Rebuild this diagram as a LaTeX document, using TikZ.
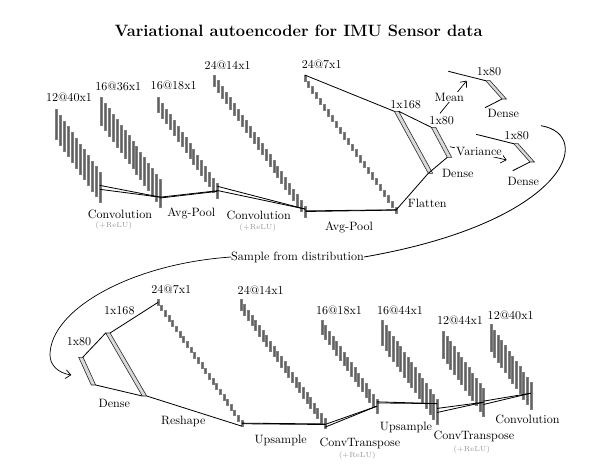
\documentclass[tikz,border=0pt]{standalone}
\usepackage{xcolor}
\usetikzlibrary{arrows.meta, calc}

% one stack of feature maps: name, left, top, count, dx, dy, height
\newcommand{\fmstack}[7]{
  \foreach \i in {1,...,#4} {
    \node[fmap, minimum height=#7*0.03cm] (#1\i) at ({#2+(\i-1)*#5},{#3+(\i-1)*#6}) {};
  }
}
% one flat dense layer: name, top left x, top y, bottom left x, bottom y
\newcommand{\flatbar}[5]{
  \coordinate (#1t) at (#2,#3);
  \coordinate (#1b) at (#4,#5);
  \draw[flat] (#1t) -- ++(4.4,0) -- ($(#1b)+(4.4,0)$) -- (#1b) -- cycle;
}

\begin{document}
\begin{tikzpicture}[
  x=0.03cm, y=-0.03cm,
  fmap/.style={draw=black!50, fill=black!62, line width=0.3pt, inner sep=0pt,
               minimum width=0.06cm, anchor=north},
  flat/.style={draw=black!85, fill=gray!30, line width=0.5pt},
  link/.style={line width=0.7pt},
  arrow/.style={line width=0.6pt, -{Straight Barb[length=1.5mm, width=2.6mm]}},
  lbl/.style={inner sep=0pt, font=\fontsize{10.3}{12}\selectfont},
  relu/.style={inner sep=0pt, font=\fontsize{6.3}{7}\selectfont, text=gray!80}
]
  \useasboundingbox (0,0) rectangle (595,475);
  \node[inner sep=0pt, font=\fontsize{14}{16}\selectfont\bfseries] (title) at (298.5,31) {Variational autoencoder for IMU Sensor data};

  % encoder
  \fmstack{a}{56.3}{109.3}{12}{3.95}{5.7}{30}
  \fmstack{b}{101.3}{97.3}{16}{3.93}{5.45}{27.5}
  \fmstack{c}{158.3}{97.3}{16}{3.93}{5.73}{14.7}
  \fmstack{d}{214.3}{74.7}{24}{3.96}{5.69}{11.5}
  \fmstack{e}{304.7}{75}{24}{3.97}{5.73}{6.3}
  \flatbar{f}{394.3}{111.3}{428.3}{173.3}
  \flatbar{g}{431.3}{127.3}{447.3}{157.3}
  \flatbar{m}{485.7}{80.7}{502}{99}
  \flatbar{v}{513.7}{143.7}{530}{162}

  \draw[link] ($(a12.north)!0.44!(a12.south)$) -- ($(b16.north)!0.65!(b16.south)$);
  \draw[link] ($(a12.north)!0.57!(a12.south)$) -- ($(b16.north)!0.65!(b16.south)$);
  \draw[link] ($(b16.north)!0.65!(b16.south)$) -- ($(c16.north)!0.5!(c16.south)$);
  \draw[link] ($(b16.north)!0.68!(b16.south)$) -- ($(c16.north)!0.54!(c16.south)$);
  \draw[link] ($(c16.north)!0.2!(c16.south)$) -- ($(d24.north)!0.3!(d24.south)$);
  \draw[link] ($(c16.north)!0.48!(c16.south)$) -- ($(d24.north)!0.3!(d24.south)$);
  \draw[link] ($(d24.north)!0.45!(d24.south)$) -- ($(e24.north)!0.45!(e24.south)$);
  \draw[link] ($(d24.north)!0.5!(d24.south)$) -- ($(e24.north)!0.5!(e24.south)$);
  \draw[link] (e1.north) -- (ft);
  \draw[link] ($(ft)+(4.4,0)$) -- (gt);
  \draw[link] (e24.center) -- (fb) -- (gb);

  % the two stubs in front of each output layer
  \coordinate (mup) at (448.3,71.3);
  \coordinate (mlow) at (485,107.7);
  \coordinate (vup) at (476,134.3);
  \coordinate (vlow) at (512.7,170.7);
  \draw[link] (mup) -- (mt);
  \draw[link] (mlow) -- (mb);
  \draw[link] (vup) -- (vt);
  \draw[link] (vlow) -- (vb);

  \coordinate (meanin) at (440,113.3);
  \coordinate (meanout) at (466.7,80.7);
  \coordinate (varin) at (450,146.7);
  \coordinate (varout) at (506.7,160);
  \draw[arrow] (meanin) -- (meanout);
  \draw[arrow] (varin) -- (varout);
  \node[lbl, fill=white, inner sep=1pt] (mean) at (449.3,97) {Mean};
  \node[lbl, fill=white, inner sep=1pt] (var) at (479,151.7) {Variance};

  \node[lbl] (la) at (69,97.7) {12@40x1};
  \node[lbl] (lb) at (118.3,86) {16@36x1};
  \node[lbl] (lc) at (173.7,85) {16@18x1};
  \node[lbl] (ld) at (227.7,65.3) {24@14x1};
  \node[lbl] (le) at (321.7,64) {24@7x1};
  \node[lbl] (lf) at (405.7,104.3) {1x168};
  \node[lbl] (lg) at (441.7,121) {1x80};
  \node[lbl] (lm) at (489,72) {1x80};
  \node[lbl] (lv) at (516.7,135.3) {1x80};
  \node[lbl] (conva) at (120,214) {Convolution};
  \node[relu] (relua) at (113.7,225.7) {(+ReLU)};
  \node[lbl] (poola) at (191.3,213) {Avg-Pool};
  \node[lbl] (convb) at (258.7,215.7) {Convolution};
  \node[relu] (relub) at (257.7,227.3) {(+ReLU)};
  \node[lbl] (poolb) at (349,227) {Avg-Pool};
  \node[lbl] (flatten) at (427.3,203.3) {Flatten};
  \node[lbl] (densea) at (457.7,173) {Dense};
  \node[lbl] (denseb) at (503.3,113.3) {Dense};
  \node[lbl] (densec) at (523.3,181) {Dense};

  % sampling step, joins encoder and decoder
  \node[lbl] (sample) at (297.5,257) {Sample from distribution};
  \coordinate (curvein) at (541,125.7);
  \coordinate (curveout) at (71.3,375);
  \draw[link] (curvein) .. controls (596,135) and (566,222) .. (sample.east);
  \draw[arrow] (sample.west) .. controls (130,264) and (50,310) .. (50,355)
    .. controls (50,365) and (58,373) .. (curveout);

  % decoder
  \flatbar{h}{78.7}{357.3}{91.3}{385}
  \flatbar{j}{105.7}{333}{142.3}{396}
  \fmstack{k}{158}{299.3}{24}{3.65}{5.25}{5.8}
  \fmstack{n}{241}{299.3}{24}{3.65}{5.16}{10.5}
  \fmstack{p}{322}{320}{16}{3.65}{5.27}{13.5}
  \fmstack{q}{382.3}{320}{16}{3.65}{5.27}{25}
  \fmstack{r}{443.3}{330.7}{12}{3.64}{5.24}{27.5}
  \fmstack{s}{490.7}{324.3}{12}{3.64}{5.27}{27}

  \draw[link] ($(ht)+(4,0)$) -- (jt);
  \draw[link] ($(jt)+(4.4,0)$) -- (k1.center);
  \draw[link] ($(hb)+(4.4,0)$) -- (jb);
  \draw[link] ($(jb)+(4.4,0)$) -- (k24.south);
  \draw[link] ($(k24.north)!0.5!(k24.south)$) -- ($(n24.north)!0.55!(n24.south)$);
  \draw[link] ($(k24.north)!0.6!(k24.south)$) -- ($(n24.north)!0.6!(n24.south)$);
  \draw[link] ($(n24.north)!0.6!(n24.south)$) -- ($(p16.north)!0.52!(p16.south)$);
  \draw[link] ($(n24.north)!0.85!(n24.south)$) -- ($(p16.north)!0.52!(p16.south)$);
  \draw[link] ($(p16.north)!0.2!(p16.south)$) -- ($(q16.north)!0.18!(q16.south)$);
  \draw[link] ($(p16.north)!0.28!(p16.south)$) -- ($(q16.north)!0.18!(q16.south)$);
  \draw[link] ($(q16.north)!0.37!(q16.south)$) -- ($(r12.north)!0.5!(r12.south)$);
  \draw[link] ($(q16.north)!0.53!(q16.south)$) -- ($(r12.north)!0.5!(r12.south)$);
  \draw[link] ($(r12.north)!0.46!(r12.south)$) -- ($(s12.north)!0.4!(s12.south)$);
  \draw[link] ($(r12.north)!0.58!(r12.south)$) -- ($(s12.north)!0.4!(s12.south)$);

  \node[lbl] (lh) at (79,341.3) {1x80};
  \node[lbl] (lj) at (119.3,310.3) {1x168};
  \node[lbl] (lk) at (171.3,289.3) {24@7x1};
  \node[lbl] (ln) at (260.7,290) {24@14x1};
  \node[lbl] (lp) at (339,310) {16@18x1};
  \node[lbl] (lq) at (400,310) {16@44x1};
  \node[lbl] (lr) at (460,320) {12@44x1};
  \node[lbl] (ls) at (510.7,315) {12@40x1};
  \node[lbl] (densed) at (114.3,403) {Dense};
  \node[lbl] (reshape) at (183.3,421.7) {Reshape};
  \node[lbl] (upa) at (280.7,440.3) {Upsample};
  \node[lbl] (tconva) at (360,443.3) {ConvTranspose};
  \node[relu] (reluc) at (357.3,455.3) {(+ReLU)};
  \node[lbl] (upb) at (406,427.7) {Upsample};
  \node[lbl] (tconvb) at (474,436.7) {ConvTranspose};
  \node[relu] (relud) at (471.7,449.3) {(+ReLU)};
  \node[lbl] (convc) at (527.5,419) {Convolution};
\end{tikzpicture}
\end{document}
